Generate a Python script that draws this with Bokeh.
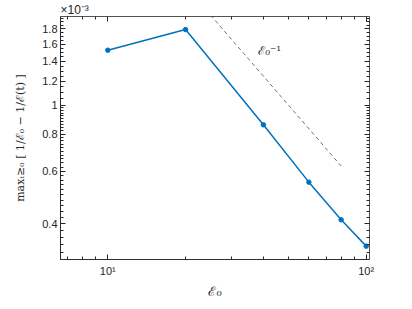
from bokeh.plotting import figure
from bokeh.models import (Range1d, FixedTicker, CustomJSTickFormatter, LogAxis, Label)
from bokeh.embed import file_html
from bokeh.resources import INLINE
import numpy as np

# ---- data ----
E0 = [10, 20, 40, 60, 80, 100]
max_gap = [1.527e-3, 1.79e-3, 0.859e-3, 0.552e-3, 0.413e-3, 0.337e-3]
ref_x = [25, 80]           # reference slope line  ~ E0^-1
ref_c = 0.05               # constant of reference line C / E0
y_ticks = [0.4, 0.6, 0.8, 1.0, 1.2, 1.4, 1.6, 1.8]   # in units of 1e-3
x_ticks = [10, 100]
scale = 1e3

y = [v * scale for v in max_gap]
ref_y = [ref_c / x * scale for x in ref_x]

TXT = "#262626"
AX = "#262626"

p = figure(width=404, height=301, x_axis_type="log", y_axis_type="log",
           x_range=Range1d(6.56, 103), y_range=Range1d(0.304, 1.98),
           output_backend="svg", toolbar_location=None,
           min_border_left=60, min_border_right=35, min_border_top=14,
           min_border_bottom=40)
p.grid.visible = False
p.outline_line_color = AX
p.outline_line_width = 0.8
p.background_fill_color = "white"

# exponent label as left-aligned title
p.title.text = "×10⁻³"
p.title.align = "left"
p.title.standoff = 0
p.title.offset = 0
p.title.text_font = "Liberation Sans"
p.title.text_font_style = "normal"
p.title.text_font_size = "12px"
p.title.text_color = TXT

x_minor = [7, 8, 9] + [20, 30, 40, 50, 60, 70, 80, 90]
y_minor = [round(float(v), 2) for v in list(np.arange(0.32, 1.0, 0.02)) + list(np.arange(1.05, 1.98, 0.05))]

xfmt = CustomJSTickFormatter(code="""
const e = Math.round(Math.log10(tick));
const sup = {0:'⁰',1:'¹',2:'²',3:'³'};
return '10' + sup[e];
""")
yfmt = CustomJSTickFormatter(code="return String(+tick.toFixed(2));")
blank = CustomJSTickFormatter(code="return '';")

def style(ax):
    ax.axis_line_color = AX
    ax.axis_line_width = 0.8
    ax.major_tick_line_color = AX
    ax.minor_tick_line_color = AX
    ax.major_tick_in = 5
    ax.major_tick_out = 0
    ax.minor_tick_in = 3
    ax.minor_tick_out = 0
    ax.major_label_text_color = TXT
    ax.major_label_text_font = "Liberation Sans"
    ax.major_label_text_font_size = "11px"

xa = p.xaxis[0]
ya = p.yaxis[0]
xa.ticker = FixedTicker(ticks=x_ticks, minor_ticks=x_minor)
ya.ticker = FixedTicker(ticks=y_ticks, minor_ticks=y_minor)
xa.formatter = xfmt
ya.formatter = yfmt
style(xa)
style(ya)
xa.major_label_standoff = 5
ya.major_label_standoff = 3

xa.axis_label = "ℰ₀"
xa.axis_label_text_font = "DejaVu Serif"
xa.axis_label_text_font_style = "normal"
xa.axis_label_text_font_size = "13px"
xa.axis_label_text_color = TXT
xa.axis_label_standoff = 4

ya.axis_label = "maxₜ≥₀ [ 1/ℰ₀ − 1/ℰ(t) ]"
ya.axis_label_text_font = "DejaVu Serif"
ya.axis_label_text_font_style = "normal"
ya.axis_label_text_font_size = "11px"
ya.axis_label_text_color = TXT
ya.axis_label_standoff = 12

top = LogAxis(ticker=FixedTicker(ticks=x_ticks, minor_ticks=x_minor), formatter=blank)
style(top)
top.axis_line_color = None
top.major_label_standoff = 0
top.major_label_text_font_size = "1px"
p.add_layout(top, "above")
right = LogAxis(ticker=FixedTicker(ticks=y_ticks, minor_ticks=y_minor), formatter=blank)
style(right)
right.axis_line_color = None
right.major_label_standoff = 0
p.add_layout(right, "right")

# reference line
p.line(ref_x, ref_y, line_color="#333333", line_width=0.7, line_dash="4 3")
lab = Label(x=42.3, y=1.515, text="ℰ₀⁻¹", text_align="center", text_baseline="middle",
            text_font="DejaVu Serif", text_font_size="12px", text_color=TXT)
p.add_layout(lab)

# data
p.line(E0, y, line_color="#0072BD", line_width=1.5)
p.scatter(E0, y, size=4.5, marker="circle", fill_color="#0072BD", line_color="#0072BD")

open("out.html", "w").write(file_html(p, INLINE))
